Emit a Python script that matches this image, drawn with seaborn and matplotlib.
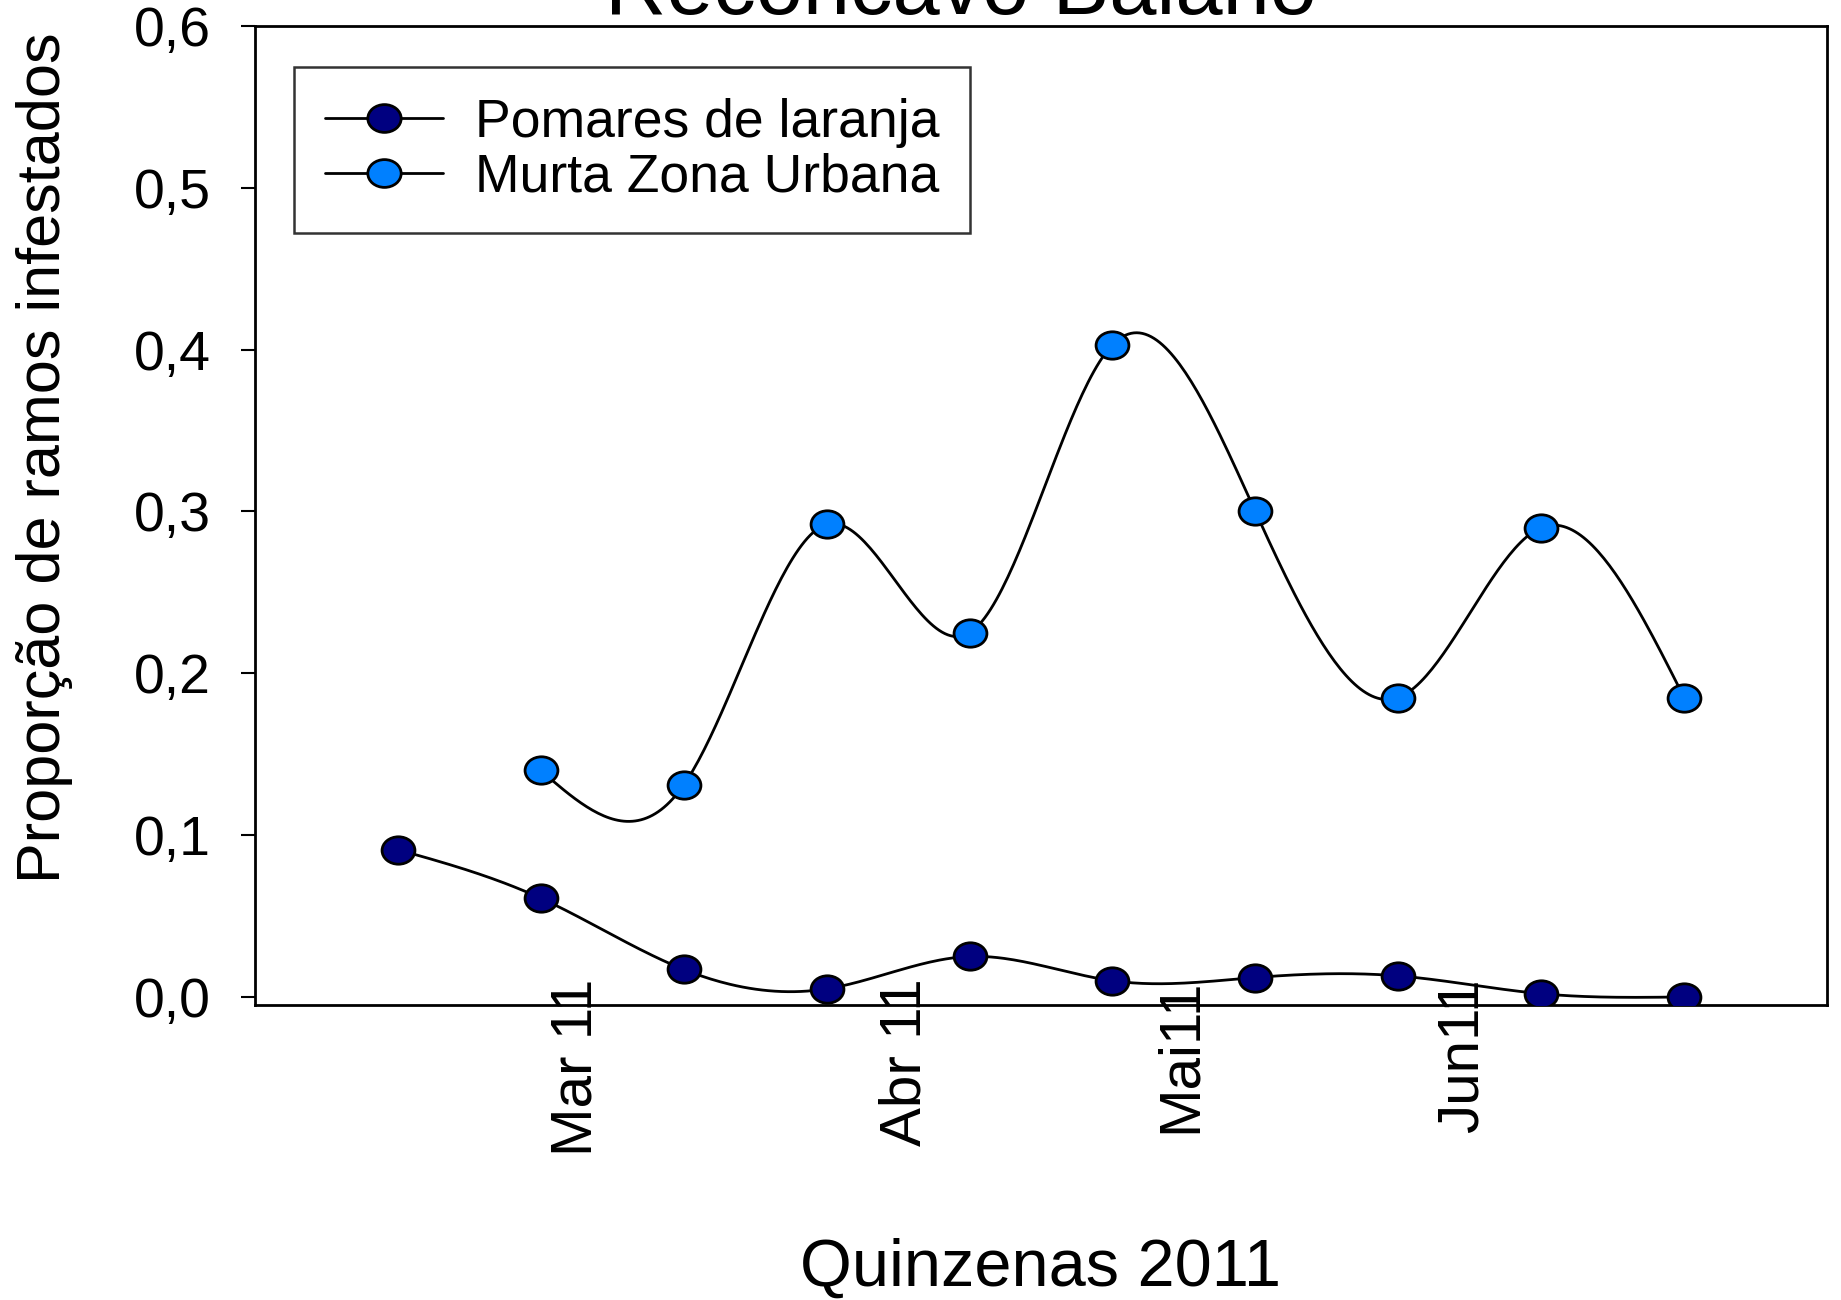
import numpy as np
import pandas as pd
import seaborn as sns
import matplotlib.pyplot as plt
from matplotlib.path import Path
from matplotlib.transforms import Affine2D
from matplotlib.lines import Line2D

# Quinzenas (fortnights) as positions 0..9
quinzenas = np.arange(10)
pomares = [0.091, 0.061, 0.017, 0.005, 0.025, 0.010, 0.012, 0.013, 0.002, 0.000]
murta_pos = np.arange(1, 10)
murta = [0.140, 0.131, 0.292, 0.225, 0.403, 0.300, 0.185, 0.290, 0.185]

month_labels = ["Mar 11", "Abr 11", "Mai11", "Jun11"]
month_pos = [1.25, 3.55, 5.48, 7.45]
y_ticks = [0.0, 0.1, 0.2, 0.3, 0.4, 0.5, 0.6]


def natural_spline(x, y, n=400):
    # natural cubic spline, only used to draw the smooth connecting line
    x = np.asarray(x, float)
    y = np.asarray(y, float)
    k = len(x)
    h = np.diff(x)
    A = np.zeros((k, k))
    b = np.zeros(k)
    A[0, 0] = A[-1, -1] = 1
    for i in range(1, k - 1):
        A[i, i - 1] = h[i - 1]
        A[i, i] = 2 * (h[i - 1] + h[i])
        A[i, i + 1] = h[i]
        b[i] = 6 * ((y[i + 1] - y[i]) / h[i] - (y[i] - y[i - 1]) / h[i - 1])
    M = np.linalg.solve(A, b)
    xs = np.linspace(x[0], x[-1], n)
    idx = np.clip(np.searchsorted(x, xs) - 1, 0, k - 2)
    x0, x1 = x[idx], x[idx + 1]
    hh = x1 - x0
    t0, t1 = x1 - xs, xs - x0
    ys = (M[idx] * t0 ** 3 + M[idx + 1] * t1 ** 3) / (6 * hh) \
        + (y[idx] / hh - M[idx] * hh / 6) * t0 \
        + (y[idx + 1] / hh - M[idx + 1] * hh / 6) * t1
    return xs, ys


sns.set_theme(style="white")
plt.rcParams['font.family'] = ['Liberation Sans', 'DejaVu Sans']
plt.rcParams.update({"text.color": "black", "axes.labelcolor": "black",
                     "xtick.color": "black", "ytick.color": "black"})

# slightly wide ellipse marker
ellipse = Path.unit_circle().transformed(Affine2D().scale(1.2, 1.0))

navy = "#000080"
blue = "#0080FF"

fig = plt.figure(figsize=(18.41, 13), dpi=100)
ax = fig.add_axes([0.1385, 0.2269, 0.9924 - 0.1385, 0.98 - 0.2269])

xs, ys = natural_spline(quinzenas, pomares)
sns.lineplot(x=xs, y=ys, ax=ax, color="black", linewidth=2, zorder=2)
xs, ys = natural_spline(murta_pos, murta)
sns.lineplot(x=xs, y=ys, ax=ax, color="black", linewidth=2, zorder=2)

df_p = pd.DataFrame({"q": quinzenas, "v": pomares})
df_m = pd.DataFrame({"q": murta_pos, "v": murta})
sns.scatterplot(data=df_p, x="q", y="v", ax=ax, marker=ellipse, s=560,
                color=navy, edgecolor="black", linewidth=2, zorder=3)
sns.scatterplot(data=df_m, x="q", y="v", ax=ax, marker=ellipse, s=560,
                color=blue, edgecolor="black", linewidth=2, zorder=3)

ax.set_xlim(-1, 10)
ax.set_ylim(-0.005, 0.6)

ax.set_xticks(month_pos)
ax.set_xticklabels(month_labels, rotation=90, fontsize=42)
ax.tick_params(axis="x", length=0, pad=-19)

ax.set_yticks(y_ticks)
ax.set_yticklabels([f"{v:.1f}".replace(".", ",") for v in y_ticks], fontsize=40)
ax.tick_params(axis="y", direction="out", length=10, width=1.5, pad=22, left=True)

for sp in ax.spines.values():
    sp.set_color("black")
    sp.set_linewidth(2)

ax.set_ylabel("Proporção de ramos infestados", fontsize=44)
ax.yaxis.set_label_coords(-0.116, 0.559)
ax.set_xlabel("Quinzenas 2011", fontsize=48)
ax.xaxis.set_label_coords(0.5, -0.238)

fig.text(0.522, 0.989, "Recôncavo Baiano", fontsize=61, ha="center", va="baseline")

handles = [
    Line2D([], [], color="black", linewidth=2, marker=ellipse, markersize=24,
           markerfacecolor=navy, markeredgecolor="black", markeredgewidth=2),
    Line2D([], [], color="black", linewidth=2, marker=ellipse, markersize=24,
           markerfacecolor=blue, markeredgecolor="black", markeredgewidth=2),
]
leg = ax.legend(handles, ["Pomares de laranja", "Murta Zona Urbana"],
                loc="upper left", bbox_to_anchor=(0.0248, 0.958), borderaxespad=0,
                fontsize=38.5, frameon=True, fancybox=False, handlelength=2.2,
                handletextpad=0.6, labelspacing=0.08, borderpad=0.58)
leg.get_frame().set_edgecolor("black")
leg.get_frame().set_linewidth(1.8)

fig.savefig("out.png", dpi=100)
